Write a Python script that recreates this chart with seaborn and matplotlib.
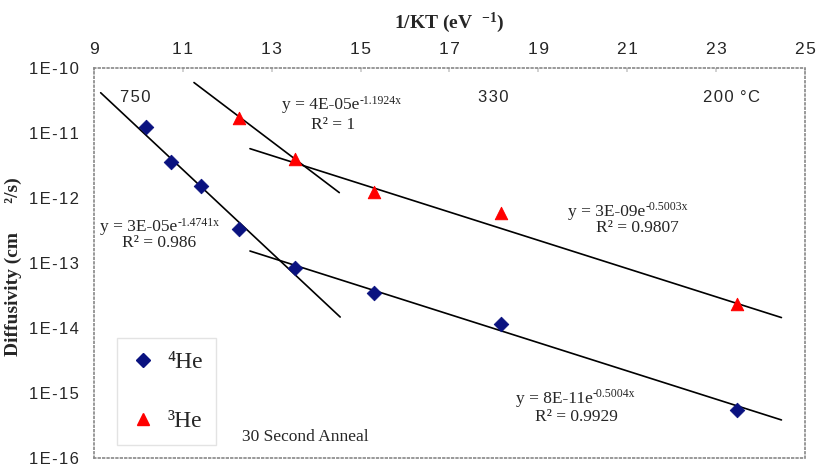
import numpy as np
import pandas as pd
import matplotlib
matplotlib.use("Agg")
import matplotlib.pyplot as plt
from matplotlib.lines import Line2D
from matplotlib.ticker import FixedLocator, FixedFormatter, NullLocator
import seaborn as sns

# ---- data ----
he4_x = [10.17, 10.73, 11.41, 12.27, 13.53, 15.31, 18.17, 23.46]
he4_y = [1.24e-11, 3.6e-12, 1.53e-12, 3.3e-13, 8.4e-14, 3.45e-14, 1.15e-14, 5.5e-16]
he3_x = [12.27, 13.53, 15.31, 18.17, 23.46]
he3_y = [1.7e-11, 4.0e-12, 1.24e-12, 5.9e-13, 2.34e-14]

# trend lines: y = a * exp(b x), drawn between x_start and x_end
fit_a = [3e-05, 4e-05, 3e-09, 8e-11]
fit_a_txt = ["3E-05", "4E-05", "3E-09", "8E-11"]
fit_b = [-1.4741, -1.1924, -0.5003, -0.5004]
fit_r2 = ["0.986", "1", "0.9807", "0.9929"]
fit_x0 = [9.15, 11.25, 12.51, 12.51]
fit_x1 = [14.54, 14.52, 24.47, 24.47]

x_ticks = [9, 11, 13, 15, 17, 19, 21, 23, 25]
y_ticks = [1e-10, 1e-11, 1e-12, 1e-13, 1e-14, 1e-15, 1e-16]
y_tick_labels = ["1E-10", "1E-11", "1E-12", "1E-13", "1E-14", "1E-15", "1E-16"]
temp_labels = ["750", "330", "200", "°C"]

HS = "\u200a"  # hair space for letter spacing of sans labels
def spaced(s):
    return HS.join(list(s))

sns.set_theme(style="white")
plt.rcParams["font.family"] = ["Liberation Serif", "DejaVu Serif"]
plt.rcParams["mathtext.fontset"] = "custom"
plt.rcParams["mathtext.rm"] = "Liberation Serif"
plt.rcParams["mathtext.it"] = "Liberation Serif:italic"
plt.rcParams["mathtext.bf"] = "Liberation Serif:bold"

fig = plt.figure(figsize=(8.16, 4.67), dpi=100)
ax = fig.add_axes([0.1152, 0.0193, 0.8713, 0.8351])

# trend lines
for a, b, x0, x1 in zip(fit_a, fit_b, fit_x0, fit_x1):
    xs = np.array([x0, x1])
    df_line = pd.DataFrame({"x": xs, "y": a * np.exp(b * xs)})
    sns.lineplot(data=df_line, x="x", y="y", ax=ax, color="black", lw=1.2)

df4 = pd.DataFrame({"x": he4_x, "y": he4_y})
df3 = pd.DataFrame({"x": he3_x, "y": he3_y})
sns.scatterplot(data=df4, x="x", y="y", ax=ax, marker="D", s=55, color="#0a1280",
                edgecolor="#0a1280", zorder=5)
sns.scatterplot(data=df3, x="x", y="y", ax=ax, marker="^", s=80, color="#ff0000",
                edgecolor="#ff0000", zorder=5)

ax.set_yscale("log")
ax.set_xlim(9, 25)
ax.set_ylim(1e-16, 1e-10)
ax.yaxis.set_major_locator(FixedLocator(y_ticks))
ax.yaxis.set_major_formatter(FixedFormatter([spaced(s) for s in y_tick_labels]))
ax.yaxis.set_minor_locator(NullLocator())
ax.set_xticks(x_ticks)
ax.set_xticklabels([spaced(str(v)) for v in x_ticks])
ax.xaxis.tick_top()
ax.xaxis.set_label_position("top")
ax.tick_params(axis="x", which="major", direction="in", length=3, color="#cccccc",
               labelsize=12.5, pad=8)
ax.tick_params(axis="y", which="major", length=0, labelsize=12, pad=11)
for lab in ax.get_xticklabels() + ax.get_yticklabels():
    lab.set_family(["Liberation Sans", "DejaVu Sans"])

for sp in ax.spines.values():
    sp.set_linestyle(":")
    sp.set_color("#888888")
    sp.set_linewidth(1.2)

ax.set_xlabel(r"1/KT (eV  $^{\mathbf{-1}}$)", fontsize=14, fontweight="bold", labelpad=10)
ax.set_ylabel("Diffusivity (cm      ²/s)", fontsize=14, fontweight="bold")
ax.yaxis.set_label_coords(-0.101, 0.49)

sans = ["Liberation Sans", "DejaVu Sans"]
for lbl, tx in zip(temp_labels, [9.92, 17.98, 23.04, 23.76]):
    ax.text(tx, 10**-10.46, spaced(lbl), fontsize=12, family=sans, ha="center", va="center")

# equations: (start x, log y of base line, R2 centre x, log y of R2)
eq_pos = [
    (9.135, -12.446, 10.46, -12.69),
    (13.23, -10.57, 14.38, -10.88),
    (19.67, -12.215, 21.22, -12.46),
    (18.50, -15.09, 19.85, -15.37),
]
for (ex, ey, rx, ry), atxt, b, r2 in zip(eq_pos, fit_a_txt, fit_b, fit_r2):
    base = ax.text(ex, 10**ey, "y = %se" % atxt, fontsize=12.5, ha="left", va="center")
    ax.annotate("%.4fx" % b, xy=(1.0, 0.78), xycoords=base, fontsize=8.5,
                ha="left", va="center")
    ax.text(rx, 10**ry, "R² = " + r2, fontsize=12.5, ha="center", va="center")

ax.text(13.75, 10**-15.68, "30 Second Anneal", fontsize=12.5, ha="center", va="center")

handles = [
    Line2D([], [], marker="D", ls="none", color="#0a1280", markersize=7),
    Line2D([], [], marker="^", ls="none", color="#ff0000", markersize=9),
]
leg = ax.legend(handles, ["⁴He", "³He"], loc="lower left",
                bbox_to_anchor=(0.032, 0.033), prop={"family": ["Liberation Serif", "DejaVu Serif"], "size": 17},
                frameon=True, fancybox=False, labelspacing=1.6, borderpad=0.55,
                handletextpad=0.5, handlelength=1.1, borderaxespad=0)
leg.get_frame().set_edgecolor("#dddddd")
leg.get_frame().set_linewidth(1.0)

fig.savefig("out.png", dpi=100)
